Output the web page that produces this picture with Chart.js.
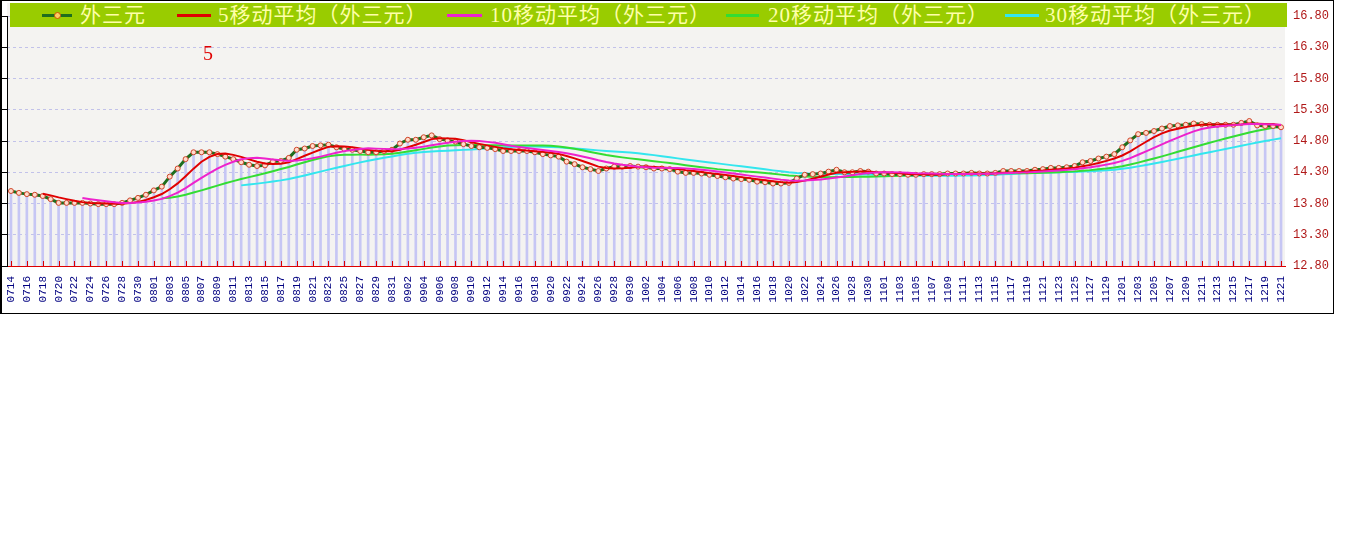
<!DOCTYPE html>
<html><head><meta charset="utf-8">
<script src="https://cdn.jsdelivr.net/npm/chart.js@4.4.1/dist/chart.umd.min.js"></script>
<style>
html,body{margin:0;padding:0;background:#fff;}
#wrap{position:relative;width:1348px;height:541px;overflow:hidden;}
#c{position:absolute;left:0;top:0;}
#frame{position:absolute;left:0;top:0;width:1334px;height:314px;box-sizing:border-box;border:1px solid #000;border-left-width:2px;pointer-events:none;}
#legend{position:absolute;left:10px;top:3px;width:1277px;height:24px;background:#99cc00;}
.sw{position:absolute;top:11px;height:3px;}
.dot{position:absolute;top:9px;width:5px;height:5px;border-radius:50%;background:#ffcc66;border:1px solid #cc5500;}
.lt{position:absolute;top:0;height:24px;line-height:24px;font-family:"Liberation Serif","Noto Sans CJK SC",serif;font-size:21px;color:#ffffa8;white-space:nowrap;letter-spacing:1px;}
#note{position:absolute;left:203px;top:43px;font:20px/20px "Liberation Serif",serif;color:#e00000;}
</style></head>
<body><div id="wrap"><canvas id="c" width="1348" height="541"></canvas><div id="legend"></div><div id="note">5</div><div id="frame"></div></div>
<script>
const dates = ['0714','0715','0716','0717','0718','0719','0720','0721','0722','0723','0724','0725','0726','0727','0728','0729','0730','0731',
'0801','0802','0803','0804','0805','0806','0807','0808','0809','0810','0811','0812','0813','0814','0815','0816','0817','0818','0819','0820','0821','0822','0823','0824','0825','0826','0827','0828','0829','0830','0831',
'0901','0902','0903','0904','0905','0906','0907','0908','0909','0910','0911','0912','0913','0914','0915','0916','0917','0918','0919','0920','0921','0922','0923','0924','0925','0926','0927','0928','0929','0930',
'1001','1002','1003','1004','1005','1006','1007','1008','1009','1010','1011','1012','1013','1014','1015','1016','1017','1018','1019','1020','1021','1022','1023','1024','1025','1026','1027','1028','1029','1030','1031',
'1101','1102','1103','1104','1105','1106','1107','1108','1109','1110','1111','1112','1113','1114','1115','1116','1117','1118','1119','1120','1121','1122','1123','1124','1125','1126','1127','1128','1129','1130',
'1201','1202','1203','1204','1205','1206','1207','1208','1209','1210','1211','1212','1213','1214','1215','1216','1217','1218','1219','1220','1221'];

const price = [14.00,13.97,13.95,13.94,13.92,13.87,13.81,13.81,13.81,13.81,
13.80,13.79,13.79,13.79,13.81,13.85,13.89,13.94,14.01,14.07,
14.23,14.36,14.51,14.62,14.62,14.62,14.59,14.55,14.51,14.46,
14.42,14.40,14.41,14.47,14.48,14.53,14.66,14.68,14.72,14.73,
14.74,14.70,14.67,14.66,14.64,14.62,14.62,14.64,14.66,14.76,
14.82,14.82,14.86,14.89,14.83,14.81,14.79,14.75,14.72,14.70,
14.69,14.67,14.64,14.64,14.64,14.64,14.62,14.59,14.57,14.55,
14.47,14.43,14.38,14.35,14.32,14.36,14.39,14.39,14.40,14.39,
14.38,14.36,14.36,14.35,14.31,14.29,14.29,14.28,14.26,14.24,
14.22,14.20,14.19,14.18,14.15,14.14,14.12,14.12,14.13,14.20,
14.26,14.27,14.28,14.31,14.34,14.30,14.30,14.32,14.31,14.28,
14.28,14.27,14.27,14.26,14.26,14.27,14.27,14.27,14.28,14.28,
14.28,14.29,14.28,14.28,14.29,14.32,14.32,14.32,14.32,14.34,
14.35,14.37,14.37,14.38,14.40,14.46,14.48,14.52,14.55,14.59,
14.70,14.81,14.91,14.93,14.96,15.00,15.04,15.05,15.06,15.08,
15.07,15.06,15.06,15.06,15.06,15.09,15.12,15.05,15.04,15.04,
15.02];

const ma5 = [null,null,null,null,13.956,13.93,13.898,13.87,13.844,13.822,
13.808,13.804,13.80,13.796,13.796,13.806,13.826,13.856,13.90,13.952,
14.028,14.122,14.236,14.358,14.468,14.546,14.592,14.60,14.578,14.546,
14.506,14.468,14.44,14.432,14.436,14.458,14.51,14.564,14.614,14.664,
14.706,14.714,14.712,14.70,14.682,14.658,14.642,14.636,14.636,14.66,
14.70,14.74,14.784,14.83,14.844,14.842,14.836,14.814,14.78,14.754,
14.73,14.706,14.684,14.668,14.656,14.646,14.636,14.626,14.612,14.594,
14.56,14.522,14.48,14.436,14.39,14.368,14.36,14.362,14.372,14.386,
14.39,14.384,14.378,14.368,14.352,14.334,14.32,14.304,14.286,14.272,
14.258,14.24,14.222,14.206,14.188,14.172,14.156,14.142,14.132,14.142,
14.166,14.196,14.228,14.264,14.292,14.30,14.306,14.314,14.314,14.302,
14.298,14.292,14.282,14.272,14.268,14.266,14.266,14.266,14.27,14.274,
14.276,14.28,14.282,14.282,14.284,14.292,14.298,14.306,14.314,14.324,
14.33,14.34,14.35,14.362,14.374,14.396,14.418,14.448,14.482,14.52,
14.568,14.634,14.712,14.788,14.862,14.922,14.968,14.996,15.022,15.046,
15.06,15.064,15.066,15.066,15.062,15.066,15.078,15.076,15.072,15.068,
15.054];

const ma10 = [null,null,null,null,null,null,null,null,null,13.889,
13.869,13.851,13.835,13.82,13.809,13.807,13.815,13.828,13.848,13.874,
13.917,13.974,14.046,14.129,14.21,14.287,14.357,14.418,14.468,14.507,
14.526,14.53,14.52,14.505,14.491,14.482,14.489,14.502,14.523,14.55,
14.582,14.612,14.638,14.657,14.673,14.682,14.678,14.674,14.668,14.671,
14.679,14.691,14.71,14.733,14.752,14.771,14.788,14.799,14.805,14.799,
14.786,14.771,14.749,14.724,14.705,14.688,14.671,14.655,14.64,14.625,
14.603,14.579,14.553,14.524,14.492,14.464,14.441,14.421,14.404,14.388,
14.379,14.372,14.37,14.37,14.369,14.362,14.352,14.341,14.327,14.312,
14.296,14.28,14.263,14.246,14.23,14.215,14.198,14.182,14.169,14.165,
14.169,14.176,14.185,14.198,14.217,14.233,14.251,14.271,14.289,14.297,
14.299,14.299,14.298,14.293,14.285,14.282,14.279,14.274,14.271,14.271,
14.271,14.273,14.274,14.276,14.279,14.284,14.289,14.294,14.298,14.304,
14.311,14.319,14.328,14.338,14.349,14.363,14.379,14.399,14.422,14.447,
14.482,14.526,14.58,14.635,14.691,14.745,14.801,14.854,14.905,14.954,
14.991,15.016,15.031,15.044,15.054,15.063,15.071,15.071,15.069,15.065,
15.06];

const ma20 = [null,null,null,null,null,null,null,null,null,null,
null,null,null,null,null,null,null,null,null,13.882,
13.893,13.913,13.941,13.975,14.010,14.047,14.086,14.123,14.158,14.191,
14.222,14.252,14.283,14.317,14.351,14.385,14.423,14.46,14.496,14.529,
14.554,14.571,14.579,14.581,14.582,14.582,14.584,14.588,14.596,14.611,
14.631,14.652,14.674,14.695,14.713,14.727,14.733,14.737,14.737,14.735,
14.733,14.731,14.73,14.729,14.729,14.73,14.73,14.727,14.723,14.712,
14.695,14.675,14.651,14.624,14.599,14.576,14.556,14.538,14.522,14.507,
14.491,14.476,14.462,14.447,14.431,14.413,14.397,14.381,14.366,14.35,
14.338,14.326,14.317,14.308,14.30,14.289,14.275,14.262,14.248,14.239,
14.233,14.228,14.224,14.222,14.224,14.224,14.225,14.227,14.229,14.231,
14.234,14.238,14.242,14.246,14.251,14.258,14.265,14.273,14.28,14.284,
14.285,14.286,14.286,14.285,14.282,14.283,14.284,14.284,14.285,14.288,
14.291,14.296,14.301,14.307,14.314,14.324,14.334,14.347,14.36,14.376,
14.397,14.423,14.454,14.487,14.52,14.554,14.59,14.627,14.664,14.701,
14.737,14.771,14.806,14.84,14.873,14.904,14.936,14.963,14.987,15.01,
15.026];

const ma30 = [null,null,null,null,null,null,null,null,null,null,
null,null,null,null,null,null,null,null,null,null,
null,null,null,null,null,null,null,null,null,14.09,
14.104,14.118,14.134,14.151,14.17,14.192,14.22,14.249,14.28,14.31,
14.342,14.372,14.401,14.43,14.458,14.484,14.508,14.531,14.553,14.576,
14.596,14.611,14.623,14.632,14.639,14.645,14.652,14.658,14.665,14.673,
14.682,14.691,14.699,14.705,14.71,14.714,14.712,14.709,14.704,14.698,
14.689,14.68,14.671,14.66,14.65,14.641,14.633,14.625,14.616,14.604,
14.589,14.574,14.557,14.539,14.522,14.505,14.488,14.472,14.457,14.442,
14.426,14.41,14.395,14.38,14.364,14.347,14.33,14.315,14.30,14.288,
14.281,14.276,14.273,14.271,14.272,14.27,14.267,14.265,14.262,14.258,
14.255,14.252,14.249,14.246,14.244,14.243,14.243,14.242,14.243,14.244,
14.246,14.249,14.252,14.256,14.26,14.266,14.273,14.28,14.286,14.291,
14.294,14.297,14.30,14.302,14.304,14.31,14.316,14.322,14.33,14.341,
14.355,14.373,14.394,14.416,14.44,14.464,14.49,14.516,14.542,14.568,
14.595,14.62,14.646,14.672,14.698,14.724,14.75,14.775,14.799,14.822,
14.844];

const yTicks = [12.80,13.30,13.80,14.30,14.80,15.30,15.80,16.30,16.80];
const seriesNames = ['外三元','5移动平均（外三元）','10移动平均（外三元）','20移动平均（外三元）','30移动平均（外三元）'];
const annotationText = '5';

// styles (not data)
const seriesColors = ['#1e6e1e','#e00000','#ee22cc','#33dd33','#33e6ee'];
const legendPos = [[32,62,70],[167,201,208],[437,472,480],[716,749,758],[995,1029,1035]];

const leg = document.getElementById('legend');
seriesNames.forEach((name, k) => {
  const [x1, x2, tx] = legendPos[k];
  const sw = document.createElement('div');
  sw.className = 'sw';
  sw.style.left = x1 + 'px'; sw.style.width = (x2 - x1) + 'px'; sw.style.background = seriesColors[k];
  leg.appendChild(sw);
  if (k === 0) {
    const d = document.createElement('div');
    d.className = 'dot'; d.style.left = ((x1 + x2) / 2 - 3.5) + 'px';
    leg.appendChild(d);
  }
  const t = document.createElement('div');
  t.className = 'lt'; t.style.left = tx + 'px'; t.textContent = name;
  leg.appendChild(t);
});
document.getElementById('note').textContent = annotationText;

const bgPlugin = {
  id: 'bg',
  beforeDraw(c) {
    const {ctx, chartArea: a} = c;
    ctx.save();
    ctx.fillStyle = '#f4f3f1';
    ctx.fillRect(a.left, 3, a.right - a.left, a.bottom - 3);
    ctx.restore();
  },
  afterDraw(c) {
    const {ctx, chartArea: a} = c;
    const xs = c.scales.x;
    ctx.save();
    ctx.strokeStyle = '#dd0000';
    ctx.lineWidth = 1;
    ctx.beginPath();
    for (let i = 0; i < dates.length; i += 2) {
      const px = Math.round(xs.getPixelForValue(i)) + 0.5;
      ctx.moveTo(px, a.bottom);
      ctx.lineTo(px, a.bottom - 5);
    }
    ctx.stroke();
    ctx.restore();
  }
};

const setTicks = (s) => { s.ticks = yTicks.map(v => ({value: v})); };

new Chart(document.getElementById('c'), {
  data: {
    labels: dates,
    datasets: [
      {type: 'line', label: seriesNames[2], data: ma10, borderColor: seriesColors[2], borderWidth: 2, pointRadius: 0, order: 1, yAxisID: 'y'},
      {type: 'line', label: seriesNames[1], data: ma5, borderColor: seriesColors[1], borderWidth: 2, pointRadius: 0, order: 2, yAxisID: 'y'},
      {type: 'line', label: seriesNames[0], data: price, borderColor: seriesColors[0], borderWidth: 3, pointRadius: 2.5,
        pointBackgroundColor: '#ffdccc', pointBorderColor: '#d0452a', pointBorderWidth: 1, order: 3, yAxisID: 'y'},
      {type: 'line', label: seriesNames[3], data: ma20, borderColor: seriesColors[3], borderWidth: 2, pointRadius: 0, order: 4, yAxisID: 'y'},
      {type: 'line', label: seriesNames[4], data: ma30, borderColor: seriesColors[4], borderWidth: 2, pointRadius: 0, order: 5, yAxisID: 'y'},
      {type: 'bar', label: 'bars', data: price, backgroundColor: '#c6c6f4', barThickness: 2, order: 10, yAxisID: 'y'}
    ]
  },
  options: {
    responsive: false, animation: false, devicePixelRatio: 1,
    layout: {padding: {left: 0, right: 0, top: 16, bottom: 230}},
    plugins: {legend: {display: false}, tooltip: {enabled: false}},
    scales: {
      x: {
        type: 'category', offset: true,
        grid: {display: true, drawOnChartArea: false, drawTicks: false},
        border: {color: '#dd0000', width: 1},
        ticks: {autoSkip: false, maxRotation: 90, minRotation: 90, padding: 10, color: '#000080',
          font: {family: 'Liberation Mono', size: 11},
          callback(v, i) { return i % 2 === 0 ? dates[i] : null; }},
        afterFit(s) { s.height = 45; }
      },
      yl: {
        type: 'linear', position: 'left', min: 12.8, max: 16.8,
        afterBuildTicks: setTicks,
        ticks: {display: false},
        grid: {drawOnChartArea: false, drawTicks: true, tickLength: 7, color: '#000'},
        border: {color: '#000'},
        afterFit(s) { s.width = 7; }
      },
      y: {
        type: 'linear', position: 'right', min: 12.8, max: 16.8,
        afterBuildTicks: setTicks,
        ticks: {color: '#b01818', padding: 8, font: {family: 'Liberation Mono', size: 12},
          callback(v) { return Number(v).toFixed(2); }},
        grid: {drawTicks: false, color: (ctx) => (ctx.tick && ctx.tick.value <= 12.81) ? 'rgba(0,0,0,0)' : '#c2c2ea'},
        border: {display: false, dash: [3, 3]},
        afterFit(s) { s.width = 63; }
      }
    }
  },
  plugins: [bgPlugin]
});
</script>
</body></html>
